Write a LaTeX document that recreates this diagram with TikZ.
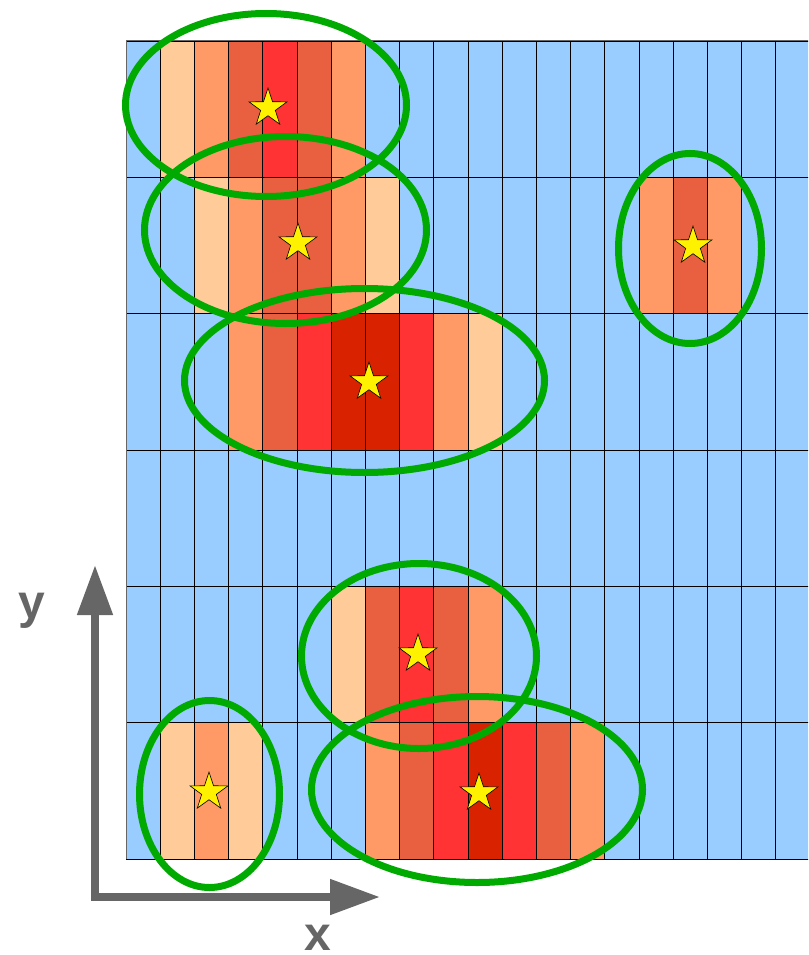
\documentclass[tikz,border=0pt]{standalone}
\usepackage{fontspec}
\setmainfont{Liberation Sans}
\usetikzlibrary{shapes.geometric, arrows.meta}
\definecolor{cellBlue}{HTML}{99CCFF}
\definecolor{cellPeach}{HTML}{FFCC99}
\definecolor{cellLight}{HTML}{FF9966}
\definecolor{cellMid}{HTML}{E96040}
\definecolor{cellRed}{HTML}{FF3333}
\definecolor{cellDark}{HTML}{D92200}
\definecolor{clusterGreen}{HTML}{00AA00}
\definecolor{axisGray}{HTML}{666666}

\tikzset{
    peak/.style={star, star points=5, star point ratio=2.6, minimum size=40pt,
        inner sep=0pt, draw=black, line width=0.6pt, fill=yellow},
    cluster/.style={ellipse, draw=clusterGreen, line width=7pt, inner sep=0pt},
    axisline/.style={axisGray, line width=8pt, line cap=rect,
        -{Triangle[length=50pt, width=34pt]}},
    axislabel/.style={axisGray, font=\fontsize{48}{48}\selectfont\bfseries}
}

\begin{document}
\begin{tikzpicture}[x=1pt, y=-1pt]
    \useasboundingbox (0,0) rectangle (808,955);
    \clip (0,0) rectangle (808,955);

    % cells
    \fill[cellBlue] (126,41) rectangle (810,859);
    \foreach \c/\r/\col in {1/0/cellPeach, 2/0/cellLight, 3/0/cellMid, 4/0/cellRed, 5/0/cellMid, 6/0/cellLight,
            2/1/cellPeach, 3/1/cellLight, 4/1/cellMid, 5/1/cellMid, 6/1/cellLight, 7/1/cellPeach,
            15/1/cellLight, 16/1/cellMid, 17/1/cellLight,
            3/2/cellLight, 4/2/cellMid, 5/2/cellRed, 6/2/cellDark, 7/2/cellDark, 8/2/cellRed, 9/2/cellLight, 10/2/cellPeach,
            6/4/cellPeach, 7/4/cellMid, 8/4/cellRed, 9/4/cellMid, 10/4/cellLight,
            1/5/cellPeach, 2/5/cellLight, 3/5/cellPeach,
            7/5/cellLight, 8/5/cellMid, 9/5/cellRed, 10/5/cellDark, 11/5/cellRed, 12/5/cellMid, 13/5/cellLight}
        \fill[\col] ({126+34.2*\c},{41+136.33*\r}) rectangle ++(34.2,136.33);

    % grid
    \foreach \c in {0,...,20}
        \draw[line width=0.9pt] ({126+34.2*\c},41) -- ++(0,818);
    \foreach \r in {0,...,6}
        \draw[line width=0.9pt] (126,{41+136.33*\r}) -- ++(684,0);
    \draw[line width=1pt, black!60] (126,859) -- (126,41) -- (810,41);

    % peaks
    \node[peak] (p1) at (268,108) {};
    \node[peak] (p2) at (298,243) {};
    \node[peak] (p3) at (369,382) {};
    \node[peak] (p4) at (693,246) {};
    \node[peak] (p5) at (418,654) {};
    \node[peak] (p6) at (479,793) {};
    \node[peak] (p7) at (209,792) {};

    % clusters
    \node[cluster, minimum width=281pt, minimum height=183pt] (c1) at (266,105) {};
    \node[cluster, minimum width=282pt, minimum height=187pt] (c2) at (285.5,230) {};
    \node[cluster, minimum width=360pt, minimum height=184pt] (c3) at (364.5,380.5) {};
    \node[cluster, minimum width=143pt, minimum height=190pt] (c4) at (690,248.5) {};
    \node[cluster, minimum width=235pt, minimum height=185pt] (c5) at (419,656) {};
    \node[cluster, minimum width=331pt, minimum height=186pt] (c6) at (477,789.5) {};
    \node[cluster, minimum width=140pt, minimum height=187pt] (c7) at (209.5,794) {};

    % axes
    \coordinate (origin) at (95,897);
    \coordinate (ytip) at (95,565);
    \coordinate (xtip) at (380,897);
    \draw[axisline] (origin) -- (ytip);
    \draw[axisline] (origin) -- (xtip);
    \node[axislabel] (ylabel) at (32,611) {y};
    \node[axislabel] (xlabel) at (318,938) {x};
\end{tikzpicture}
\end{document}
